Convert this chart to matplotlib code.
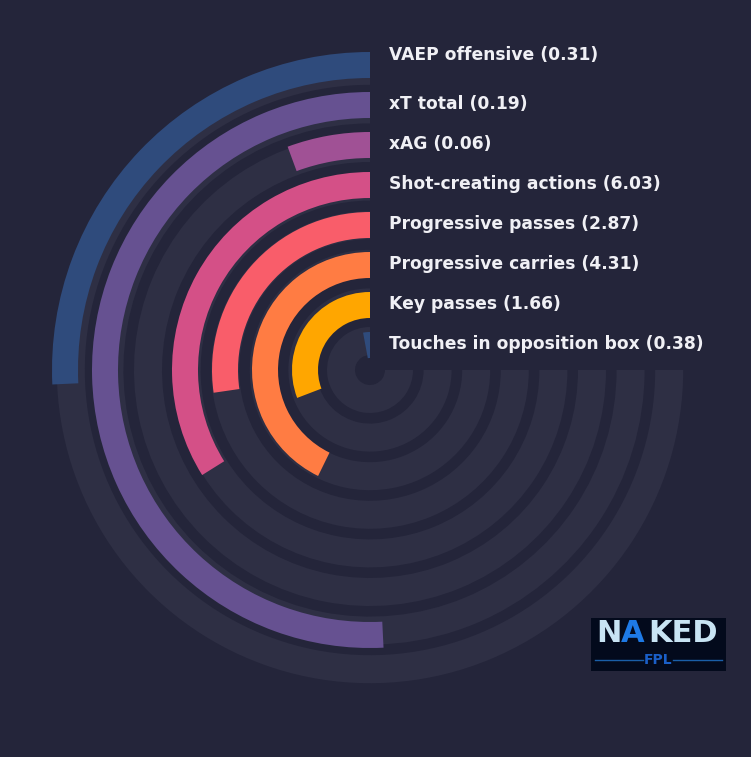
import numpy as np
import matplotlib.pyplot as plt

# metrics from the inner ring outwards
metrics = ['Touches in opposition box', 'Key passes', 'Progressive carries',
           'Progressive passes', 'Shot-creating actions', 'xAG', 'xT total',
           'VAEP offensive']
values = [0.38, 1.66, 4.31, 2.87, 6.03, 0.06, 0.19, 0.31]
percentiles = [3.9, 41.1, 57.0, 36.4, 45.2, 7.5, 67.7, 34.3]
colors = ['#2f4b7c', '#ffa600', '#ff7c43', '#f95d6a', '#d45087', '#a05195',
          '#665191', '#2f4b7c']

BG = '#24253a'
TRACK = '#2e2f44'
W, H = 751, 757
cx, cy, R = 370, 370, 330

fig = plt.figure(figsize=(W / 100, H / 100), dpi=100, facecolor=BG)
ax = fig.add_axes([(cx - R) / W, (H - cy - R) / H, 2 * R / W, 2 * R / H],
                  projection='polar')
ax.set_theta_zero_location('N')
ax.set_theta_direction(1)
ax.set_ylim(0, R)
ax.set_axis_off()

n = len(metrics)
idx = np.arange(n)
bar_r = 25 + 40 * idx
track_r = 29 + 38.6 * idx
max_angle = 1.5 * np.pi

# background tracks (3/4 circle)
ax.bar(0, 28, width=max_angle, bottom=track_r - 14, align='edge',
       color=TRACK, linewidth=0)
# value bars
angles = np.array(percentiles) / 100 * max_angle
ax.bar(0, 26, width=angles, bottom=bar_r - 13, align='edge',
       color=colors, linewidth=0)

for i in range(n):
    dy = 10 if i == n - 1 else 1
    ax.annotate(f'{metrics[i]} ({values[i]:.2f})', xy=(0, bar_r[i]),
                xytext=(19, dy), textcoords='offset pixels',
                ha='left', va='center', fontsize=12.35, fontweight='bold',
                color='#f0f0f5')

# logo
lax = fig.add_axes([591 / W, 1 - 671 / H, 135 / W, 53 / H])
lax.set_xlim(0, 135)
lax.set_ylim(0, 53)
lax.set_xticks([])
lax.set_yticks([])
lax.set_facecolor('#030a1c')
for s in lax.spines.values():
    s.set_visible(False)
lax.text(5, 37, 'N', color='#c8e4f4', fontsize=22, fontweight='bold',
         ha='left', va='center', family='DejaVu Sans')
lax.text(42, 37, 'A', color='#1e7ae6', fontsize=22, fontweight='bold',
         ha='center', va='center', family='DejaVu Sans')
lax.text(57, 37, 'KED', color='#c8e4f4', fontsize=22, fontweight='bold',
         ha='left', va='center', family='DejaVu Sans')
lax.text(67, 11, 'FPL', color='#1a5fc8', fontsize=10, fontweight='bold',
         ha='center', va='center')
lax.plot([4, 52], [11, 11], color='#1a5fa8', lw=1)
lax.plot([82, 131], [11, 11], color='#1a5fa8', lw=1)

fig.savefig('out.png', dpi=100, facecolor=BG)
